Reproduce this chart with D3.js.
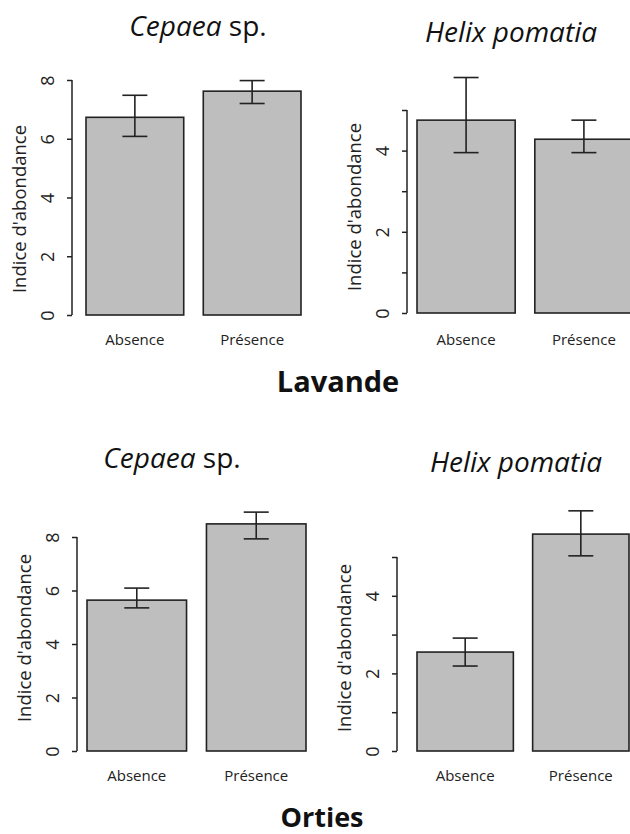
<!DOCTYPE html>
<html>
<head>
<meta charset="utf-8">
<script src="https://cdn.jsdelivr.net/npm/d3@7"></script>
<style>
  body { margin: 0; background: #fff; }
  svg { display: block; font-family: "Open Sans", "Noto Sans", sans-serif; }
</style>
</head>
<body>
<div id="chart"></div>
<script>
// categories
const groups = ["Absence", "Présence"];

// Lavande – Cepaea sp.
const lavCepaeaMean = [6.73, 7.62];
const lavCepaeaLow  = [6.08, 7.20];
const lavCepaeaHigh = [7.48, 7.98];

// Lavande – Helix pomatia
const lavHelixMean = [4.75, 4.28];
const lavHelixLow  = [3.95, 3.95];
const lavHelixHigh = [5.80, 4.75];

// Orties – Cepaea sp.
const ortCepaeaMean = [5.64, 8.49];
const ortCepaeaLow  = [5.35, 7.93];
const ortCepaeaHigh = [6.09, 8.93];

// Orties – Helix pomatia
const ortHelixMean = [2.55, 5.59];
const ortHelixLow  = [2.19, 5.03];
const ortHelixHigh = [2.91, 6.19];

// tick values / labels
const cepaeaTicks = [0, 2, 4, 6, 8];
const cepaeaLabels = [0, 2, 4, 6, 8];
const helixTicks = [0, 1, 2, 3, 4, 5];
const helixLabels = [0, 2, 4];

const yTitle = "Indice d'abondance";
const sectionTitles = ["Lavande", "Orties"];

const svg = d3.select("#chart").append("svg")
    .attr("width", 630)
    .attr("height", 834);

// panel layout (pixel frame for each plot)
const panels = [
    { genus: "Cepaea", rest: " sp.", mean: lavCepaeaMean, low: lavCepaeaLow, high: lavCepaeaHigh,
      max: 8, ticks: cepaeaTicks, labels: cepaeaLabels,
      axisX: 72, y0: 315, yTop: 80, x0: 86, x1: 301,
      titleX: 198, titleY: 36, yTitleY: 209, xLabY: 345 },
    { genus: "Helix pomatia", rest: "", mean: lavHelixMean, low: lavHelixLow, high: lavHelixHigh,
      max: 5, ticks: helixTicks, labels: helixLabels,
      axisX: 407, y0: 313, yTop: 110, x0: 417, x1: 633,
      titleX: 511, titleY: 42, yTitleY: 207, xLabY: 345 },
    { genus: "Cepaea", rest: " sp.", mean: ortCepaeaMean, low: ortCepaeaLow, high: ortCepaeaHigh,
      max: 8, ticks: cepaeaTicks, labels: cepaeaLabels,
      axisX: 77, y0: 751, yTop: 537, x0: 87, x1: 306,
      titleX: 172, titleY: 468, yTitleY: 638, xLabY: 781 },
    { genus: "Helix pomatia", rest: "", mean: ortHelixMean, low: ortHelixLow, high: ortHelixHigh,
      max: 5, ticks: helixTicks, labels: helixLabels,
      axisX: 397, y0: 751, yTop: 557, x0: 417, x1: 629,
      titleX: 516, titleY: 472, yTitleY: 648, xLabY: 781 }
];

const ink = "#222";

panels.forEach(function (p) {
    const g = svg.append("g");

    const y = d3.scaleLinear().domain([0, p.max]).range([p.y0, p.yTop]);
    const x = d3.scaleBand().domain(groups).range([p.x0, p.x1])
        .paddingInner(1 / 6).paddingOuter(0);

    // y axis (R style: line spans first to last tick)
    const axis = d3.axisLeft(y)
        .tickValues(p.ticks)
        .tickSize(5)
        .tickFormat(function (d) { return p.labels.indexOf(d) >= 0 ? d : ""; });

    const ax = g.append("g")
        .attr("transform", "translate(" + p.axisX + ",0)")
        .call(axis);
    ax.select(".domain").remove();
    ax.append("line")
        .attr("y1", y(0)).attr("y2", y(p.max))
        .attr("stroke", ink).attr("stroke-width", 1.5);
    ax.selectAll(".tick line").attr("stroke", ink).attr("stroke-width", 1.5);
    ax.selectAll(".tick text")
        .attr("x", 0).attr("y", 0)
        .attr("dy", "0.35em")
        .attr("transform", "translate(-24,0) rotate(-90)")
        .attr("text-anchor", "middle")
        .attr("fill", ink)
        .style("font-size", "18px")
        .style("font-family", "'Open Sans', sans-serif");

    // y title
    g.append("text")
        .attr("transform", "translate(" + (p.axisX - 52) + "," + p.yTitleY + ") rotate(-90)")
        .attr("text-anchor", "middle")
        .attr("dy", "0.35em")
        .attr("fill", ink)
        .style("font-size", "18.5px")
        .text(yTitle);

    // bars
    g.selectAll("rect.bar")
        .data(groups)
        .enter().append("rect")
        .attr("class", "bar")
        .attr("x", function (d) { return x(d); })
        .attr("width", x.bandwidth())
        .attr("y", function (d, i) { return y(p.mean[i]); })
        .attr("height", function (d, i) { return y(0) - y(p.mean[i]); })
        .attr("fill", "#bebebe")
        .attr("stroke", ink)
        .attr("stroke-width", 1.6);

    // error bars
    const cap = 12.5;
    const eb = g.selectAll("g.err")
        .data(groups)
        .enter().append("g")
        .attr("class", "err")
        .attr("stroke", ink)
        .attr("stroke-width", 1.6);
    eb.append("line")
        .attr("x1", function (d) { return x(d) + x.bandwidth() / 2; })
        .attr("x2", function (d) { return x(d) + x.bandwidth() / 2; })
        .attr("y1", function (d, i) { return y(p.low[i]); })
        .attr("y2", function (d, i) { return y(p.high[i]); });
    eb.append("line")
        .attr("x1", function (d) { return x(d) + x.bandwidth() / 2 - cap; })
        .attr("x2", function (d) { return x(d) + x.bandwidth() / 2 + cap; })
        .attr("y1", function (d, i) { return y(p.high[i]); })
        .attr("y2", function (d, i) { return y(p.high[i]); });
    eb.append("line")
        .attr("x1", function (d) { return x(d) + x.bandwidth() / 2 - cap; })
        .attr("x2", function (d) { return x(d) + x.bandwidth() / 2 + cap; })
        .attr("y1", function (d, i) { return y(p.low[i]); })
        .attr("y2", function (d, i) { return y(p.low[i]); });

    // category labels
    g.selectAll("text.cat")
        .data(groups)
        .enter().append("text")
        .attr("class", "cat")
        .attr("x", function (d) { return x(d) + x.bandwidth() / 2; })
        .attr("y", p.xLabY)
        .attr("text-anchor", "middle")
        .attr("fill", ink)
        .style("font-size", "15px")
        .text(function (d) { return d; });

    // panel title (italic species name)
    const t = g.append("text")
        .attr("x", p.titleX)
        .attr("y", p.titleY)
        .attr("text-anchor", "middle")
        .attr("fill", "#111")
        .style("font-size", "28px");
    t.append("tspan").style("font-style", "italic").text(p.genus);
    if (p.rest) t.append("tspan").text(p.rest);
});

// section labels
svg.append("text")
    .attr("x", 338).attr("y", 392)
    .attr("text-anchor", "middle")
    .attr("fill", "#111")
    .style("font-size", "29px")
    .style("font-weight", "bold")
    .text(sectionTitles[0]);

svg.append("text")
    .attr("x", 322).attr("y", 827)
    .attr("text-anchor", "middle")
    .attr("fill", "#111")
    .style("font-size", "27px")
    .style("font-weight", "bold")
    .text(sectionTitles[1]);
</script>
</body>
</html>
